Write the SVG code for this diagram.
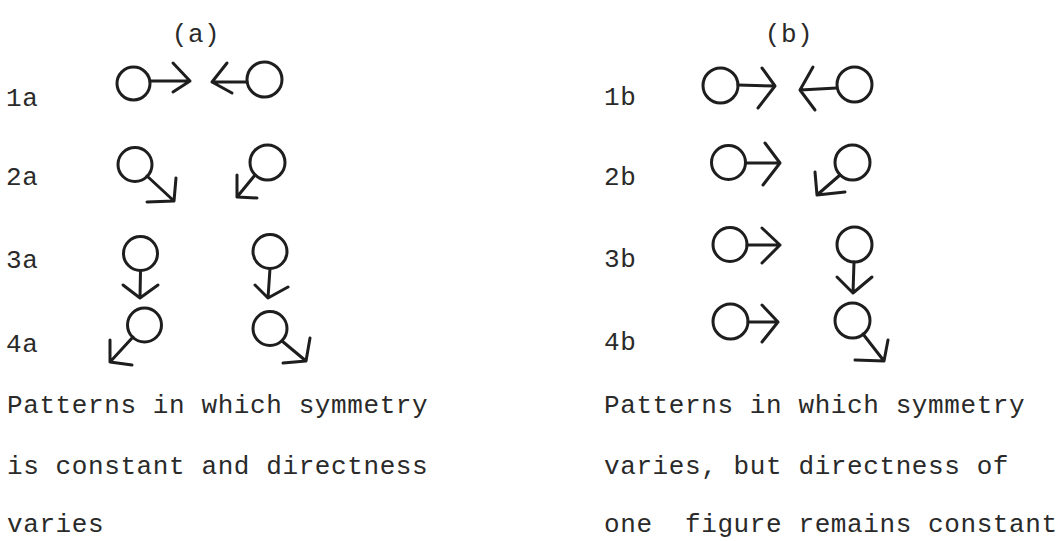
<svg xmlns="http://www.w3.org/2000/svg" width="1058" height="541" viewBox="0 0 1058 541">
<style>
.c{fill:none;stroke:#1e1e1e;stroke-width:3}
.a{fill:none;stroke:#1e1e1e;stroke-width:3;stroke-linecap:round;stroke-linejoin:round}
text{font-family:"Liberation Mono","DejaVu Sans Mono",monospace;font-size:26px;letter-spacing:0.6px;fill:#2a2a2a;white-space:pre}
</style>
<rect width="1058" height="541" fill="#ffffff"/>
<g id="titles">
<text x="196" y="42" text-anchor="middle">(a)</text>
<text x="789" y="42" text-anchor="middle">(b)</text>
</g>
<g id="labels">
<text x="6" y="106">1a</text>
<text x="6" y="185">2a</text>
<text x="6" y="268">3a</text>
<text x="6" y="352">4a</text>
<text x="604" y="105">1b</text>
<text x="604" y="185">2b</text>
<text x="604" y="267">3b</text>
<text x="604" y="350">4b</text>
</g>
<g id="fig-1a-left"><circle class="c" cx="133.5" cy="83.5" r="16.5"/><path class="a" d="M150 81 L190 81 M173 63 L190 81 L173 92"/></g>
<g id="fig-1a-right"><circle class="c" cx="264.5" cy="79.5" r="17.5"/><path class="a" d="M247 82 L212 82 M227 63 L212 82 L232 93"/></g>
<g id="fig-2a-left"><circle class="c" cx="135" cy="164.5" r="17"/><path class="a" d="M147 176 L174 201 M176 178 L174 201 L147 202"/></g>
<g id="fig-2a-right"><circle class="c" cx="267.5" cy="162.5" r="17.5"/><path class="a" d="M255 175 L237 197 M237 175 L237 197 L257 198"/></g>
<g id="fig-3a-left"><circle class="c" cx="140.5" cy="253.5" r="17"/><path class="a" d="M140.5 270.5 L140 298 M123 285 L140 298 L158 285"/></g>
<g id="fig-3a-right"><circle class="c" cx="270" cy="251.5" r="17"/><path class="a" d="M270 268.5 L268 298 M255 285 L268 298 L288 287"/></g>
<g id="fig-4a-left"><circle class="c" cx="144.5" cy="325" r="17"/><path class="a" d="M133 337 L110 362 M110 340 L110 362 L132 365"/></g>
<g id="fig-4a-right"><circle class="c" cx="270" cy="328.5" r="17"/><path class="a" d="M282 341 L306 361 M310 338 L306 361 L283 363"/></g>
<g id="fig-1b-left"><circle class="c" cx="720.5" cy="85.5" r="17.5"/><path class="a" d="M738 85 L775 86 M762 68 L775 86 L758 108"/></g>
<g id="fig-1b-right"><circle class="c" cx="854.5" cy="84.5" r="17.5"/><path class="a" d="M837 88 L800 90 M813 67 L800 90 L815 110"/></g>
<g id="fig-2b-left"><circle class="c" cx="728.5" cy="162.5" r="17"/><path class="a" d="M745.5 163 L780 163 M765 143 L780 163 L763 185"/></g>
<g id="fig-2b-right"><circle class="c" cx="852.5" cy="162.5" r="17.5"/><path class="a" d="M840 175 L817 195 M815 172 L817 195 L845 192"/></g>
<g id="fig-3b-left"><circle class="c" cx="730" cy="244.5" r="17"/><path class="a" d="M747 245 L780 245 M762 228 L780 245 L762 263"/></g>
<g id="fig-3b-right"><circle class="c" cx="854.5" cy="244.5" r="17.5"/><path class="a" d="M854 262 L853 293 M837 277 L853 293 L872 277"/></g>
<g id="fig-4b-left"><circle class="c" cx="730.5" cy="321.5" r="17.5"/><path class="a" d="M748 322 L778 322 M762 305 L778 322 L762 342"/></g>
<g id="fig-4b-right"><circle class="c" cx="852.5" cy="320.5" r="17.5"/><path class="a" d="M863 334 L884 361 M888 340 L884 361 L855 360"/></g>
<g id="captions">
<text x="7" y="413">Patterns in which symmetry</text>
<text x="7" y="474">is constant and directness</text>
<text x="7" y="532">varies</text>
<text x="604" y="413">Patterns in which symmetry</text>
<text x="604" y="474">varies, but directness of</text>
<text x="604" y="532">one  figure remains constant</text>
</g>
</svg>
